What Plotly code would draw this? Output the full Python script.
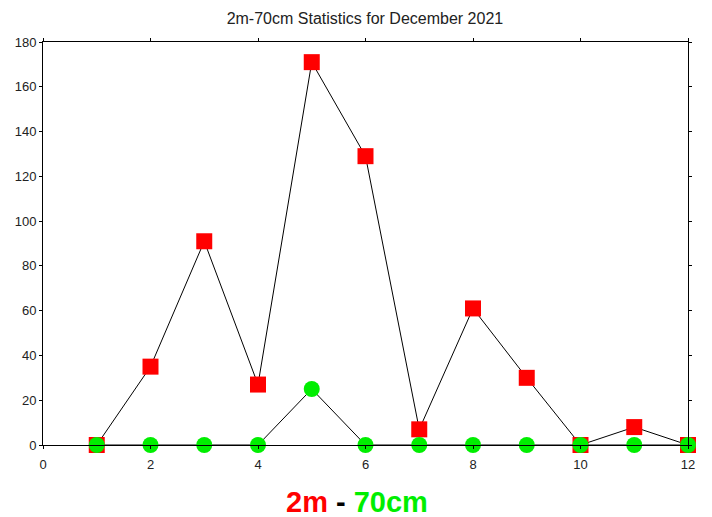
import plotly.graph_objects as go

days = [1, 2, 3, 4, 5, 6, 7, 8, 9, 10, 11, 12]
band_2m = [0, 35, 91, 27, 171, 129, 7, 61, 30, 0, 8, 0]
band_70cm = [0, 0, 0, 0, 25, 0, 0, 0, 0, 0, 0, 0]
x_ticks = [0, 2, 4, 6, 8, 10, 12]
y_ticks = [0, 20, 40, 60, 80, 100, 120, 140, 160, 180]

fig = go.Figure()
fig.add_trace(go.Scatter(x=days, y=band_2m, mode="lines+markers",
                         line=dict(color="black", width=1),
                         marker=dict(color="#ff0000", symbol="square", size=16),
                         cliponaxis=False, showlegend=False))
fig.add_trace(go.Scatter(x=days, y=band_70cm, mode="lines+markers",
                         line=dict(color="black", width=1),
                         marker=dict(color="#00ee00", symbol="circle", size=16),
                         cliponaxis=False, showlegend=False))

axis_common = dict(showgrid=False, zeroline=False, showline=True, linecolor="black",
                   linewidth=1, mirror="ticks", ticks="outside", ticklen=3,
                   tickcolor="black", automargin=False,
                   tickfont=dict(family="Liberation Sans, Arial", size=13, color="#222"))
fig.update_xaxes(range=[0, 12], tickvals=x_ticks, ticklabelstandoff=4, **axis_common)
fig.update_yaxes(range=[0, 180], tickvals=y_ticks, **axis_common)

fig.update_layout(
    width=704, height=509,
    margin=dict(l=35, r=24, t=34, b=72),
    plot_bgcolor="white", paper_bgcolor="white",
    title=dict(text="2m-70cm Statistics for December 2021", x=0.507, xanchor="center",
               y=0.980, yanchor="middle",
               font=dict(family="Liberation Sans, Arial", size=16, color="#222")),
    annotations=[dict(
        text="<b><span style='color:#ff0000'>2m</span> <span style='color:#000'>-</span> <span style='color:#00ee00'>70cm</span></b>",
        xref="paper", yref="paper", x=0.487, y=-0.141, xanchor="center", yanchor="middle",
        showarrow=False, font=dict(family="Liberation Sans, Arial", size=29))],
)
fig.write_html("out.html")
